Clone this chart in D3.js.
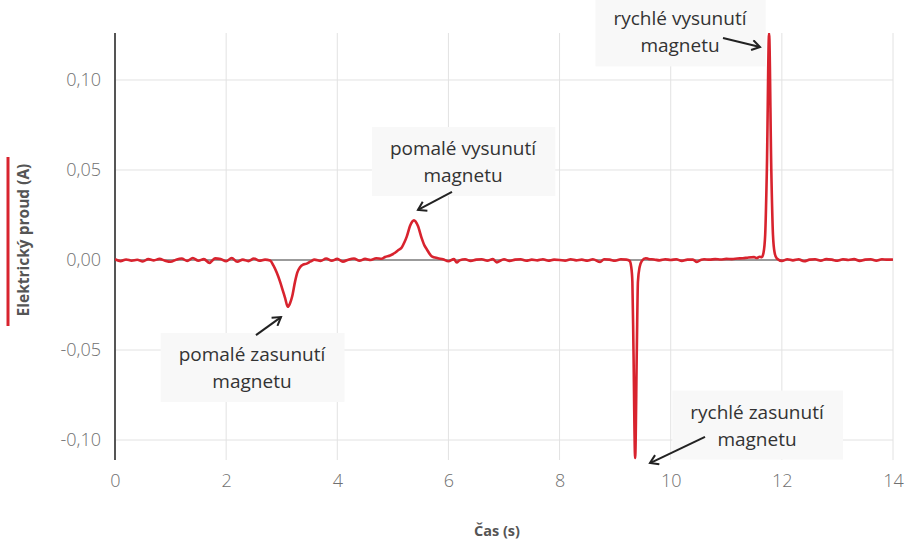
<!DOCTYPE html>
<html>
<head>
<meta charset="utf-8">
<script src="https://cdn.jsdelivr.net/npm/d3@7"></script>
<style>
  body { margin: 0; background: #fff; }
  svg { font-family: "Open Sans", sans-serif; }
</style>
</head>
<body>
<div id="graf"></div>
<script>
/*--- data ---*/
let cas = [
    0.0, 0.1, 0.2, 0.3, 0.4, 0.5, 0.6, 0.7, 0.8, 0.9,
    1.0, 1.1, 1.2, 1.3, 1.4, 1.5, 1.6, 1.7, 1.8, 1.9,
    2.0, 2.1, 2.2, 2.3, 2.4, 2.5, 2.6, 2.7,
    2.79, 2.85, 2.91, 2.97, 3.02, 3.06, 3.11, 3.15, 3.19, 3.24, 3.28, 3.33, 3.39, 3.45, 3.52, 3.59,
    3.7, 3.8, 3.9, 4.0, 4.1, 4.2, 4.3, 4.4, 4.5, 4.6, 4.7, 4.8,
    4.86, 4.95, 5.04, 5.10, 5.16, 5.21, 5.25, 5.31, 5.38, 5.45, 5.52, 5.57, 5.61, 5.70, 5.81,
    5.9, 6.0, 6.1, 6.15, 6.2, 6.3, 6.4, 6.5, 6.6, 6.7, 6.8, 6.87, 6.95,
    7.0, 7.1, 7.2, 7.3, 7.4, 7.5, 7.6, 7.7, 7.8, 7.9,
    8.0, 8.1, 8.2, 8.3, 8.4, 8.5, 8.6, 8.73, 8.8, 8.9, 9.0, 9.1, 9.2,
    9.26, 9.29, 9.31, 9.33, 9.36, 9.39, 9.41, 9.44, 9.48,
    9.55, 9.6, 9.7, 9.8, 9.9, 10.0, 10.1, 10.2, 10.3, 10.4, 10.47, 10.55, 10.6, 10.7, 10.8, 10.9,
    11.0, 11.1, 11.2, 11.3, 11.4, 11.5, 11.55, 11.6,
    11.64, 11.67, 11.70, 11.73, 11.77, 11.81, 11.84, 11.87, 11.91,
    12.0, 12.1, 12.2, 12.3, 12.4, 12.5, 12.6, 12.7, 12.8, 12.9,
    13.0, 13.1, 13.2, 13.3, 13.4, 13.5, 13.6, 13.7, 13.8, 13.9, 14.0
];

let proud = [
    0.0004, -0.0006, 0.0003, -0.0004, 0.0001, -0.0008, 0.0005, -0.0002, 0.0006, -0.0004,
    -0.0010, 0.0002, 0.0008, -0.0005, 0.0011, -0.0004, 0.0005, -0.0016, 0.0009, 0.0006,
    -0.0007, 0.0011, -0.0010, 0.0002, -0.0006, 0.0008, -0.0004, 0.0002,
    -0.0003, -0.003, -0.007, -0.012, -0.017, -0.021, -0.026, -0.024, -0.020, -0.012, -0.007, -0.004, -0.0025, -0.002, -0.0008, 0.0002,
    -0.0005, 0.0008, -0.0004, 0.0006, -0.0009, 0.0002, 0.0008, -0.0004, 0.0006, 0.0000, 0.0010, 0.0007,
    0.0017, 0.0025, 0.004, 0.0055, 0.007, 0.010, 0.013, 0.019, 0.022, 0.019, 0.012, 0.008, 0.006, 0.002, 0.001,
    0.0004, -0.0007, 0.0005, -0.0014, -0.0002, 0.0004, -0.0005, 0.0002, 0.0004, -0.0004, 0.0005, -0.0013, -0.0001,
    0.0004, -0.0005, 0.0002, 0.0004, -0.0004, 0.0002, -0.0002, 0.0004, -0.0004, 0.0002,
    0.0000, -0.0004, 0.0004, -0.0002, 0.0002, -0.0004, 0.0004, -0.0011, 0.0004, 0.0002, -0.0004, 0.0004, 0.0002,
    -0.0005, -0.004, -0.012, -0.050, -0.110, -0.050, -0.012, -0.004, -0.0005,
    0.0010, 0.0006, 0.0003, -0.0002, 0.0004, 0.0000, 0.0004, -0.0005, 0.0002, 0.0002, -0.0011, 0.0002, 0.0004, 0.0002, 0.0005, 0.0003,
    0.0006, 0.0005, 0.0008, 0.0010, 0.0014, 0.0016, 0.0011, 0.0018,
    0.0016, 0.004, 0.014, 0.050, 0.126, 0.050, 0.014, 0.004, 0.0008,
    -0.0005, 0.0004, -0.0002, 0.0004, -0.0007, 0.0002, 0.0004, -0.0004, 0.0005, 0.0002,
    -0.0004, 0.0004, 0.0000, 0.0005, -0.0005, 0.0002, 0.0004, -0.0004, 0.0004, 0.0002, 0.0003
];

let xTicks = [0, 2, 4, 6, 8, 10, 12, 14];
let yTicks = [-0.10, -0.05, 0.00, 0.05, 0.10];

// popisky: střed textu a šipka (v jednotkách grafu)
let popisky = [
    { radky: ["pomalé vysunutí", "magnetu"], t: 6.262, v: 0.0547, od: [6.064, 0.0378], k: [5.452, 0.0278] },
    { radky: ["pomalé zasunutí", "magnetu"], t: 2.465, v: -0.0597, od: [2.537, -0.0417], k: [2.987, -0.0317] },
    { radky: ["rychlé zasunutí", "magnetu"], t: 11.553, v: -0.0917, od: [10.617, -0.0983], k: [9.627, -0.1128] },
    { radky: ["rychlé vysunutí", "magnetu"], t: 10.167, v: 0.1267, od: [10.941, 0.1233], k: [11.607, 0.1183] }
];

/*--- rozměry ---*/
let width = 915;
let height = 543;
let margin = { top: 33, right: 22, bottom: 83, left: 115 };

let cesky = d3.formatLocale({ decimal: ",", thousands: " ", grouping: [3], currency: ["", " Kč"], minus: "-" });
let fmt = cesky.format(".2f");

let x = d3.scaleLinear()
    .domain([0, 14])
    .range([margin.left, width - margin.right]);

let y = d3.scaleLinear()
    .domain([-0.1111, 0.1261])
    .range([height - margin.bottom, margin.top]);

let svg = d3.select("#graf").append("svg")
    .attr("width", width)
    .attr("height", height);

svg.append("defs").append("clipPath")
    .attr("id", "orez")
    .append("rect")
    .attr("x", margin.left).attr("y", margin.top)
    .attr("width", width - margin.left - margin.right)
    .attr("height", height - margin.top - margin.bottom);

svg.select("defs").append("marker")
    .attr("id", "sipka")
    .attr("viewBox", "0 0 12 12")
    .attr("refX", 10).attr("refY", 6)
    .attr("markerWidth", 12).attr("markerHeight", 12)
    .attr("markerUnits", "userSpaceOnUse")
    .attr("orient", "auto")
    .append("path")
    .attr("d", "M2,1 L10,6 L2,11")
    .attr("fill", "none")
    .attr("stroke", "#222")
    .attr("stroke-width", 2);

/*--- mřížka ---*/
svg.append("g")
    .selectAll("line")
    .data(xTicks.filter(d => d > 0))
    .enter().append("line")
    .attr("x1", d => x(d)).attr("x2", d => x(d))
    .attr("y1", margin.top).attr("y2", height - margin.bottom)
    .attr("stroke", "#e2e2e2");

svg.append("g")
    .selectAll("line")
    .data(yTicks.filter(d => d !== 0))
    .enter().append("line")
    .attr("x1", margin.left).attr("x2", width - margin.right)
    .attr("y1", d => y(d)).attr("y2", d => y(d))
    .attr("stroke", "#e2e2e2");

/*--- osy ---*/
let osaX = svg.append("g")
    .attr("transform", "translate(0," + (height - margin.bottom) + ")")
    .call(d3.axisBottom(x).tickValues(xTicks).tickSize(0).tickPadding(14).tickFormat(d3.format("d")));
osaX.select(".domain").remove();
osaX.selectAll("text")
    .attr("fill", "#707070")
    .style("font-size", "18px")
    .style("font-weight", 300)
    .style("font-family", "Open Sans");

let osaY = svg.append("g")
    .attr("transform", "translate(" + margin.left + ",0)")
    .call(d3.axisLeft(y).tickValues(yTicks).tickSize(0).tickPadding(14).tickFormat(fmt));
osaY.select(".domain").remove();
osaY.selectAll("text")
    .attr("fill", "#707070")
    .style("font-size", "18px")
    .style("font-weight", 300)
    .style("font-family", "Open Sans");

// nulová čára
svg.append("line")
    .attr("x1", margin.left).attr("x2", width - margin.right)
    .attr("y1", y(0)).attr("y2", y(0))
    .attr("stroke", "#7a7a7a")
    .attr("stroke-width", 1.5);

svg.append("line")
    .attr("x1", margin.left).attr("x2", margin.left)
    .attr("y1", margin.top).attr("y2", height - margin.bottom)
    .attr("stroke", "#555")
    .attr("stroke-width", 2);

/*--- průběh proudu ---*/
let body = cas.map((t, i) => ({ t: t, v: proud[i] }));

let cara = d3.line()
    .x(d => x(d.t))
    .y(d => y(d.v))
    .curve(d3.curveMonotoneX);

svg.append("path")
    .datum(body)
    .attr("clip-path", "url(#orez)")
    .attr("d", cara)
    .attr("fill", "none")
    .attr("stroke", "#d8232e")
    .attr("stroke-width", 2.6)
    .attr("stroke-linejoin", "round");

/*--- názvy os ---*/
svg.append("text")
    .attr("x", (margin.left + width - margin.right) / 2 - 7)
    .attr("y", 530)
    .attr("text-anchor", "middle")
    .attr("dominant-baseline", "central")
    .attr("fill", "#555")
    .style("font-size", "14.5px")
    .style("font-weight", 700)
    .text("Čas (s)");

svg.append("text")
    .attr("transform", "translate(23,240) rotate(-90)")
    .attr("text-anchor", "middle")
    .attr("dominant-baseline", "central")
    .attr("fill", "#555")
    .style("font-size", "15.5px")
    .style("font-weight", 700)
    .text("Elektrický proud (A)");

svg.append("line")
    .attr("x1", 8).attr("x2", 8)
    .attr("y1", 157).attr("y2", 326)
    .attr("stroke", "#d8232e")
    .attr("stroke-width", 3);

/*--- popisky se šipkami ---*/
let g = svg.append("g");

popisky.forEach(function (p) {
    let cx = x(p.t), cy = y(p.v);
    let box = g.append("rect").attr("fill", "#f8f8f8");
    let txt = g.append("text")
        .attr("text-anchor", "middle")
        .attr("fill", "#333")
        .style("font-size", "19px");
    p.radky.forEach(function (r, i) {
        txt.append("tspan")
            .attr("x", cx)
            .attr("y", cy + (i - 0.5) * 27)
            .attr("dominant-baseline", "central")
            .text(r);
    });
    let bb = txt.node().getBBox();
    box.attr("x", bb.x - 18).attr("y", bb.y - 8)
        .attr("width", bb.width + 36).attr("height", bb.height + 16);

    g.append("line")
        .attr("x1", x(p.od[0])).attr("y1", y(p.od[1]))
        .attr("x2", x(p.k[0])).attr("y2", y(p.k[1]))
        .attr("stroke", "#222")
        .attr("stroke-width", 2)
        .attr("marker-end", "url(#sipka)");
});
</script>
</body>
</html>
